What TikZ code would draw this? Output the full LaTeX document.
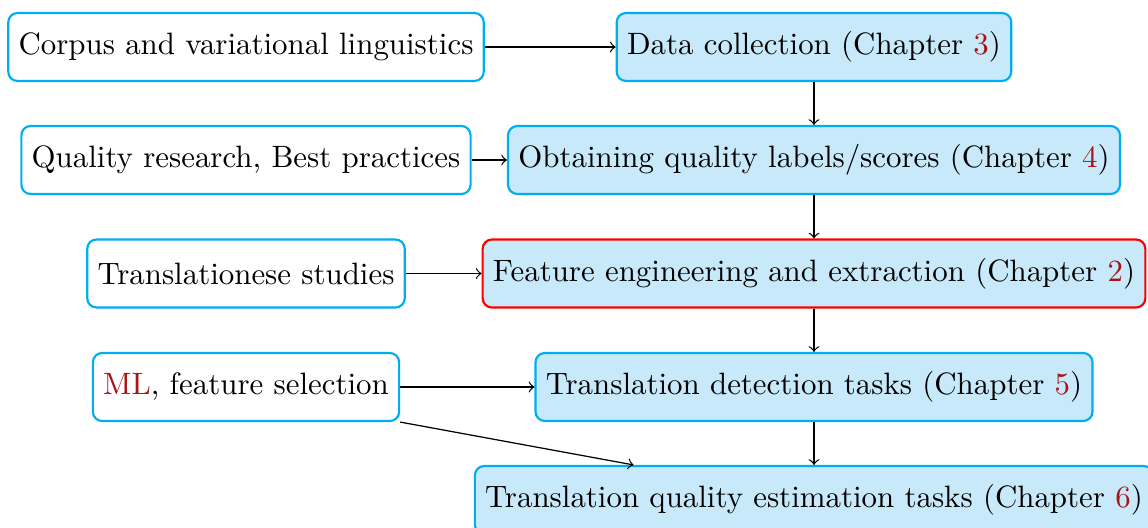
\documentclass[tikz,border=0pt]{standalone}
\usepackage{tikz}

\definecolor{boxblue}{RGB}{0,174,239}
\definecolor{boxfill}{RGB}{199,233,249}
\definecolor{chapred}{RGB}{170,20,25}
\newcommand{\chnum}[1]{\textcolor{chapred}{#1}}

\begin{document}
\begin{tikzpicture}[x=0.3236pt,y=-0.3236pt,
        every node/.style={draw=boxblue,line width=0.7pt,rounded corners=3pt,minimum height=22pt},
        chap/.style={fill=boxfill}]
    %
    \useasboundingbox (0,0) rectangle (1148,528);
    %
    \draw (246,47) node (Corpus) {Corpus and variational linguistics};
    \draw (246,160) node (Quality) {Quality research, Best practices};
    \draw (246,273.5) node (Transl) {Translationese studies};
    \draw (246,387) node (ML) {\chnum{ML}, feature selection};
    %
    \draw (814,47) node[chap] (Data) {Data collection (Chapter \chnum{3})};
    \draw (814,160) node[chap] (Labels) {Obtaining quality labels/scores (Chapter \chnum{4})};
    \draw (814,273.5) node[chap,draw=red] (Feat) {Feature engineering and extraction (Chapter \chnum{2})};
    \draw (814,387) node[chap] (Detect) {Translation detection tasks (Chapter \chnum{5})};
    \draw (814,500) node[chap] (QE) {Translation quality estimation tasks (Chapter \chnum{6})};
    %
    \draw[->] (Corpus) -- (Data);
    \draw[->] (Quality) -- (Labels);
    \draw[->] (Transl) -- (Feat);
    \draw[->] (ML) -- (Detect);
    \draw[->] (ML.south east) -- (QE.169);
    %
    \draw[->] (Data) -- (Labels);
    \draw[->] (Labels) -- (Feat);
    \draw[->] (Feat) -- (Detect);
    \draw[->] (Detect) -- (QE);
    %
\end{tikzpicture}
\end{document}
